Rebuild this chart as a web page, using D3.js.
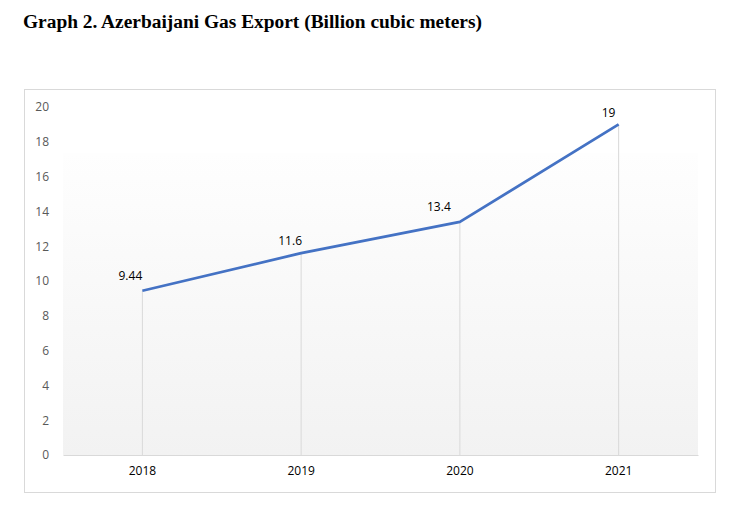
<!DOCTYPE html>
<html>
<head>
<meta charset="utf-8">
<script src="https://cdn.jsdelivr.net/npm/d3@7"></script>
<style>
	body { margin: 0; background: #fff; }
	svg { display: block; }
</style>
</head>
<body>
<div id="chart"></div>
<script>
// 데이터
const years = ['2018', '2019', '2020', '2021'];
const exportBcm = [9.44, 11.6, 13.4, 19];
const yTicks = [0, 2, 4, 6, 8, 10, 12, 14, 16, 18, 20];
const labelNudge = [[-12, -15], [-11, -12], [-21, -15], [-10, -12]];	// 라벨 위치 보정

const W = 733, H = 510;
const plot = { left: 63, right: 698, top: 107, bottom: 455 };

const svg = d3.select('#chart').append('svg')
	.attr('width', W)
	.attr('height', H);

// 제목
svg.append('text')
	.attr('x', 23)
	.attr('y', 28)
	.style('font-family', '"Liberation Serif", "Times New Roman", serif')
	.style('font-weight', 'bold')
	.style('font-size', '19.4px')
	.style('fill', '#000')
	.text('Graph 2. Azerbaijani Gas Export (Billion cubic meters)');

// 차트 테두리
svg.append('rect')
	.attr('x', 24.5)
	.attr('y', 89.5)
	.attr('width', 691)
	.attr('height', 403)
	.style('fill', '#fff')
	.style('stroke', '#d9d9d9')
	.style('stroke-width', 1);

const x = d3.scaleBand()
	.domain(years)
	.range([plot.left, plot.right]);

const y = d3.scaleLinear()
	.domain([0, 20])
	.range([plot.bottom, plot.top]);

// 배경 그라데이션
const grad = svg.append('defs').append('linearGradient')
	.attr('id', 'bg')
	.attr('x1', 0).attr('y1', 0)
	.attr('x2', 0).attr('y2', 1);
grad.append('stop').attr('offset', '0%').attr('stop-color', '#fefefe');
grad.append('stop').attr('offset', '100%').attr('stop-color', '#f2f2f2');

const bgTop = plot.top + (plot.bottom - plot.top) * 0.132;
svg.append('rect')
	.attr('x', plot.left)
	.attr('y', bgTop)
	.attr('width', plot.right - plot.left)
	.attr('height', plot.bottom - bgTop)
	.style('fill', 'url(#bg)');

const cx = d => x(d) + x.bandwidth() / 2;

// 수직선 (drop lines)
svg.append('g')
	.selectAll('line')
	.data(years)
	.join('line')
	.attr('x1', d => cx(d))
	.attr('x2', d => cx(d))
	.attr('y1', (d, i) => y(exportBcm[i]))
	.attr('y2', y(0))
	.style('stroke', '#d9d9d9')
	.style('stroke-width', 1);

// X 축
const xAxis = svg.append('g')
	.attr('transform', 'translate(0,' + y(0) + ')')
	.call(d3.axisBottom(x).tickSize(0).tickPadding(11));
xAxis.select('.domain').style('stroke', '#d9d9d9').style('stroke-width', 1.2);
xAxis.selectAll('text')
	.style('font-family', '"Open Sans", "Liberation Sans", sans-serif')
	.style('font-size', '12px')
	.style('fill', '#000');

// Y 축
const yAxis = svg.append('g')
	.attr('transform', 'translate(' + (plot.left - 14) + ',0)')
	.call(d3.axisLeft(y).tickValues(yTicks).tickSize(0).tickPadding(0));
yAxis.select('.domain').remove();
yAxis.selectAll('text')
	.style('font-family', '"Open Sans", "Liberation Sans", sans-serif')
	.style('font-size', '12px')
	.style('fill', '#595959');

// 라인
const line = d3.line()
	.x((d, i) => cx(years[i]))
	.y(d => y(d));

svg.append('path')
	.datum(exportBcm)
	.attr('d', line)
	.style('fill', 'none')
	.style('stroke', '#4472c4')
	.style('stroke-width', 2.8)
	.style('stroke-linejoin', 'round');

// 데이터 라벨
svg.append('g')
	.selectAll('text')
	.data(exportBcm)
	.join('text')
	.attr('x', (d, i) => cx(years[i]) + labelNudge[i][0])
	.attr('y', (d, i) => y(d) + labelNudge[i][1])
	.attr('dy', '0.35em')
	.style('text-anchor', 'middle')
	.style('font-family', '"Open Sans", "Liberation Sans", sans-serif')
	.style('font-size', '12px')
	.style('fill', '#000')
	.text(d => d);
</script>
</body>
</html>
